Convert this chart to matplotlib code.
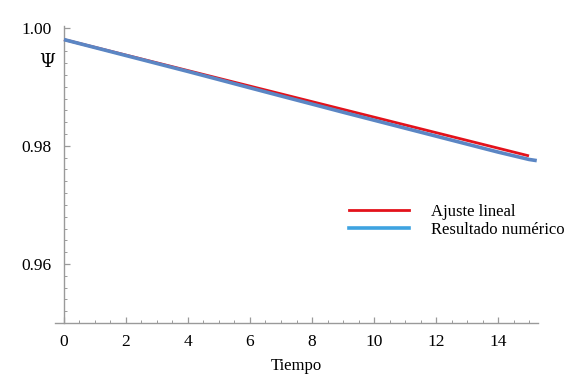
import matplotlib
matplotlib.use("Agg")
import matplotlib.pyplot as plt
from matplotlib.ticker import MultipleLocator
from matplotlib.lines import Line2D

# linear fit and numerical solution of psi over time
t_fit = [0.0, 15.0]
psi_fit = [0.9980, 0.9783]

t_num = [0.0, 1.0, 2.0, 3.0, 4.0, 5.0, 6.0, 7.0, 8.0, 9.0, 10.0,
         11.0, 12.0, 13.0, 14.0, 15.0, 15.25]
psi_num = [0.9980, 0.99665, 0.9953, 0.99395, 0.9926, 0.99122, 0.98983,
           0.98845, 0.98708, 0.9857, 0.98435, 0.983, 0.98165, 0.9803,
           0.97895, 0.9777, 0.9775]

x_ticks = [0, 2, 4, 6, 8, 10, 12, 14]
y_ticks = [0.96, 0.98, 1.00]

plt.rcParams["font.family"] = ["Liberation Serif", "DejaVu Serif"]
plt.rcParams["font.size"] = 12

fig = plt.figure(figsize=(5.69, 3.78), dpi=100)
ax = fig.add_axes([55 / 569, 1 - 323 / 378, (538 - 55) / 569, (323 - 26) / 378])

ax.plot(t_fit, psi_fit, color="#e3121b", lw=2.0, solid_capstyle="butt", zorder=2)
ax.plot(t_num, psi_num, color="#5b86c4", lw=2.6, solid_capstyle="butt", zorder=3)

ax.set_xlim(-0.29, 15.29)
ax.set_ylim(0.95, 1.0003)

for side in ("top", "right"):
    ax.spines[side].set_visible(False)
ax.spines["left"].set_position(("data", 0))
ax.spines["bottom"].set_position(("data", 0.95))
for side in ("left", "bottom"):
    ax.spines[side].set_color("#9a9a9a")
    ax.spines[side].set_linewidth(1.0)

ax.set_xticks(x_ticks)
ax.set_yticks(y_ticks)
ax.set_yticklabels([f"{v:.2f}" for v in y_ticks])
ax.xaxis.set_minor_locator(MultipleLocator(0.5))
ax.yaxis.set_minor_locator(MultipleLocator(0.002))
ax.tick_params(which="both", direction="in", color="#9a9a9a", labelcolor="black")
ax.tick_params(which="major", length=4, width=0.9, labelsize=12.5)
ax.tick_params(which="minor", length=2, width=0.7)
ax.tick_params(axis="x", pad=8)
ax.tick_params(axis="y", pad=9)

ax.set_xlabel("Tiempo", fontsize=12, labelpad=6)
fig.text(47 / 569, 1 - 62 / 378, "\u03a8", fontsize=13, ha="center", va="center",
         family=["DejaVu Serif"])

handles = [Line2D([], [], color="#e3121b", lw=2.0),
           Line2D([], [], color="#3ea3e0", lw=2.6)]
fig.legend(handles, ["Ajuste lineal", "Resultado num\u00e9rico"],
           loc="center left", bbox_to_anchor=(349 / 569, 1 - 221 / 378),
           frameon=False, borderpad=0, borderaxespad=0,
           handlelength=3.6, handletextpad=1.3, labelspacing=0.12, fontsize=12)

fig.savefig("out.png", dpi=100)
